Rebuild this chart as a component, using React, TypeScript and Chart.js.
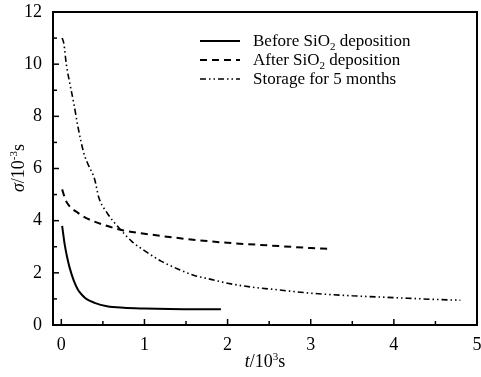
import { useEffect, useRef } from 'react';
import { Chart, registerables } from 'chart.js';

Chart.register(...registerables);

// Data (t in 10^3 s, sigma in 10^-3 s)
const beforeT = [0.01, 0.04, 0.07, 0.1, 0.15, 0.2, 0.25, 0.3, 0.4, 0.55, 0.75, 1.0, 1.3, 1.6, 1.92];
const beforeV = [3.8, 3.1, 2.6, 2.2, 1.7, 1.35, 1.15, 1.0, 0.85, 0.72, 0.66, 0.63, 0.61, 0.6, 0.6];

const afterT = [0.01, 0.05, 0.1, 0.2, 0.3, 0.5, 0.75, 1.0, 1.5, 2.0, 2.5, 3.0, 3.2];
const afterV = [5.2, 4.8, 4.55, 4.3, 4.1, 3.85, 3.62, 3.5, 3.3, 3.15, 3.05, 2.95, 2.92];

const storageT = [0.01, 0.03, 0.06, 0.1, 0.15, 0.2, 0.27, 0.33, 0.4, 0.45, 0.55, 0.7, 0.85, 1.0, 1.2, 1.4, 1.6, 1.8, 2.0, 2.3, 2.6, 3.0, 3.5, 4.0, 4.5, 4.8];
const storageV = [11.0, 10.8, 10.0, 9.3, 8.5, 7.6, 6.6, 6.1, 5.6, 4.9, 4.3, 3.7, 3.2, 2.85, 2.45, 2.15, 1.9, 1.75, 1.6, 1.45, 1.35, 1.22, 1.12, 1.05, 0.98, 0.95];

const xTicks = [0, 0.5, 1, 1.5, 2, 2.5, 3, 3.5, 4, 4.5, 5];
const yTicks = [0, 1, 2, 3, 4, 5, 6, 7, 8, 9, 10, 11, 12];

const legendLabels = [
  ['Before SiO', '2', ' deposition'],
  ['After SiO', '2', ' deposition'],
  ['Storage for 5 months', '', ''],
];

const SERIF = '"Liberation Serif", "Times New Roman", serif';

const dashes: number[][] = [[], [7, 5], [6, 3, 1.5, 3, 1.5, 3]];
const widths = [2, 2, 1.6];

const extrasPlugin = {
  id: 'extras',
  afterDraw(chart: any) {
    const { ctx, chartArea: a, scales } = chart;
    const xs = scales.x;
    const ys = scales.y;
    ctx.save();
    ctx.strokeStyle = '#000';
    ctx.fillStyle = '#000';
    // frame
    ctx.lineWidth = 2;
    ctx.setLineDash([]);
    ctx.strokeRect(a.left, a.top, a.right - a.left, a.bottom - a.top);
    // inward ticks
    ctx.lineWidth = 1.5;
    xTicks.forEach((v) => {
      const px = xs.getPixelForValue(v);
      const len = Number.isInteger(v) ? 6 : 4;
      ctx.beginPath();
      ctx.moveTo(px, a.bottom);
      ctx.lineTo(px, a.bottom - len);
      ctx.stroke();
    });
    yTicks.forEach((v) => {
      const py = ys.getPixelForValue(v);
      const len = v % 2 === 0 ? 6 : 4;
      ctx.beginPath();
      ctx.moveTo(a.left, py);
      ctx.lineTo(a.left + len, py);
      ctx.stroke();
    });

    const drawParts = (parts: { t: string; f: string; dy: number }[], x: number, y: number) => {
      let total = 0;
      parts.forEach((p) => {
        ctx.font = p.f;
        total += ctx.measureText(p.t).width;
      });
      let cx = x - total / 2;
      ctx.textBaseline = 'alphabetic';
      ctx.textAlign = 'left';
      parts.forEach((p) => {
        ctx.font = p.f;
        ctx.fillText(p.t, cx, y + p.dy);
        cx += ctx.measureText(p.t).width;
      });
    };
    // x title
    drawParts(
      [
        { t: 't', f: `italic 18px ${SERIF}`, dy: 0 },
        { t: '/10', f: `18px ${SERIF}`, dy: 0 },
        { t: '3', f: `11px ${SERIF}`, dy: -7 },
        { t: 's', f: `18px ${SERIF}`, dy: 0 },
      ],
      265,
      367
    );
    // y title
    ctx.save();
    ctx.translate(24, 168);
    ctx.rotate(-Math.PI / 2);
    drawParts(
      [
        { t: 'σ', f: `italic 18px ${SERIF}`, dy: 0 },
        { t: '/10', f: `18px ${SERIF}`, dy: 0 },
        { t: '-3', f: `11px ${SERIF}`, dy: -7 },
        { t: 's', f: `18px ${SERIF}`, dy: 0 },
      ],
      0,
      0
    );
    ctx.restore();

    // legend
    const lx0 = 200;
    const lx1 = 240;
    const tx = 253;
    const rows = [41, 60, 79];
    legendLabels.forEach((lab, i) => {
      const y = rows[i];
      ctx.lineWidth = widths[i];
      ctx.setLineDash(dashes[i]);
      ctx.beginPath();
      ctx.moveTo(lx0, y);
      ctx.lineTo(lx1, y);
      ctx.stroke();
      ctx.setLineDash([]);
      ctx.textAlign = 'left';
      ctx.textBaseline = 'alphabetic';
      let cx = tx;
      ctx.font = `17px ${SERIF}`;
      ctx.fillText(lab[0], cx, y + 5);
      cx += ctx.measureText(lab[0]).width;
      if (lab[1]) {
        ctx.font = `11px ${SERIF}`;
        ctx.fillText(lab[1], cx, y + 9);
        cx += ctx.measureText(lab[1]).width;
      }
      if (lab[2]) {
        ctx.font = `17px ${SERIF}`;
        ctx.fillText(lab[2], cx, y + 5);
      }
    });
    ctx.restore();
  },
};

export default function App() {
  const ref = useRef<HTMLCanvasElement>(null);
  useEffect(() => {
    const toPts = (t: number[], v: number[]) => t.map((x, i) => ({ x, y: v[i] }));
    const chart = new Chart(ref.current as HTMLCanvasElement, {
      type: 'line',
      data: {
        datasets: [
          { data: toPts(beforeT, beforeV), borderColor: '#000', borderWidth: widths[0], borderDash: dashes[0], pointRadius: 0, cubicInterpolationMode: 'monotone', fill: false },
          { data: toPts(afterT, afterV), borderColor: '#000', borderWidth: widths[1], borderDash: dashes[1], pointRadius: 0, cubicInterpolationMode: 'monotone', fill: false },
          { data: toPts(storageT, storageV), borderColor: '#000', borderWidth: widths[2], borderDash: dashes[2], pointRadius: 0, cubicInterpolationMode: 'monotone', fill: false },
        ],
      },
      options: {
        responsive: false,
        animation: false,
        layout: { padding: { top: 12, right: 4, left: 0, bottom: 0 } },
        plugins: { legend: { display: false }, tooltip: { enabled: false } },
        scales: {
          x: {
            type: 'linear',
            min: -0.1,
            max: 5,
            grid: { display: false, drawTicks: false },
            border: { display: false },
            afterBuildTicks: (s: any) => {
              s.ticks = xTicks.map((v) => ({ value: v }));
            },
            afterFit: (s: any) => {
              s.height = 52;
              s.paddingLeft = 0;
              s.paddingRight = 0;
            },
            ticks: {
              autoSkip: false,
              maxRotation: 0,
              padding: 9,
              color: '#000',
              font: { family: SERIF, size: 18 },
              callback: (v: any) => (Number.isInteger(v) ? String(v) : ''),
            },
          },
          y: {
            type: 'linear',
            min: 0,
            max: 12,
            grid: { display: false, drawTicks: false },
            border: { display: false },
            afterBuildTicks: (s: any) => {
              s.ticks = yTicks.map((v) => ({ value: v }));
            },
            afterFit: (s: any) => {
              s.width = 53;
              s.paddingTop = 0;
              s.paddingBottom = 0;
            },
            ticks: {
              autoSkip: false,
              padding: 11,
              color: '#000',
              font: { family: SERIF, size: 18 },
              callback: (v: any) => (v % 2 === 0 ? String(v) : ''),
            },
          },
        },
      },
      plugins: [extrasPlugin],
    });
    return () => chart.destroy();
  }, []);
  return (
    <div style={{ position: 'fixed', left: 0, top: 0, width: 481, height: 377, background: '#fff' }}>
      <canvas ref={ref} width={481} height={377} />
    </div>
  );
}
